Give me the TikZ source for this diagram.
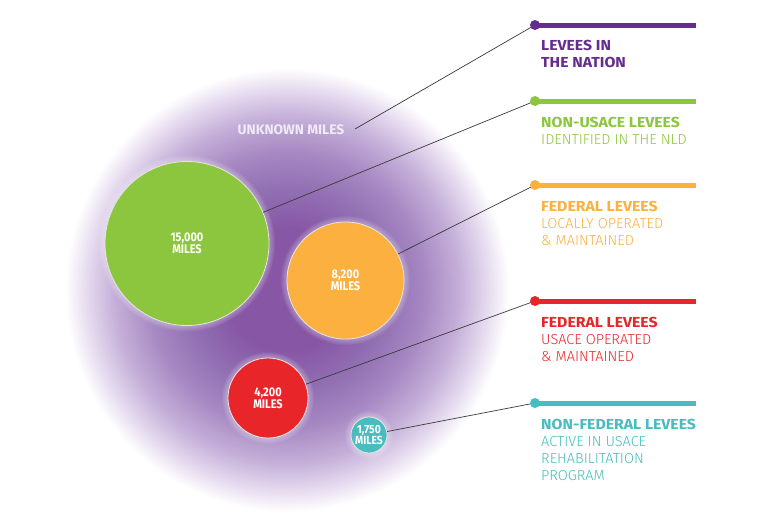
\documentclass[tikz,border=0pt]{standalone}
\usepackage{fontspec}
\setmainfont{Fira Sans}
\newfontfamily\lightfont{Fira Sans Light}
\newfontfamily\lvwide{Fira Sans}[FakeStretch=1.09]
\newfontfamily\lvcond{Fira Sans}[FakeStretch=0.88]
\definecolor{lvpurple}{HTML}{652D90}
\definecolor{lvgreen}{HTML}{8CC63F}
\definecolor{lvorange}{HTML}{FBB040}
\definecolor{lvred}{HTML}{E8262A}
\definecolor{lvteal}{HTML}{48BCBE}
\definecolor{glowA}{HTML}{8757A6}
\definecolor{glowB}{HTML}{9270B3}
\definecolor{glowC}{HTML}{A688C2}
\definecolor{glowD}{HTML}{C5B0D9}
\definecolor{glowE}{HTML}{E4D9EE}
\definecolor{conncol}{HTML}{3A3A3A}
\pgfdeclareradialshading{glowshade}{\pgfpoint{0bp}{0bp}}{color(0bp)=(glowA); color(7bp)=(glowA); color(11.5bp)=(glowB); color(15.5bp)=(glowC); color(19.5bp)=(glowD); color(22.5bp)=(glowE); color(25bp)=(white); color(50bp)=(white)}
\newcommand\lvhalo[2]{%
  \foreach \k in {1,...,6}{\fill[white,opacity=0.06] #1 circle ({#2+\k*1pt});}}
\tikzset{
  bub/.style={circle, draw=white!90!black, line width=0.8pt, inner sep=0pt, text=white,
    font=\lvcond\bfseries\fontsize{12.5}{12}\selectfont, align=center},
  dotn/.style={circle, inner sep=0pt, minimum size=10pt},
  bar/.style={line width=5pt},
  conn/.style={draw=conncol, line width=0.7pt},
  lbl/.style={anchor=north west, inner sep=0pt, align=left, font=\fontsize{14.5}{17}\selectfont},
}
\newcommand\lvhd[1]{{\lvwide\bfseries #1}}
\begin{document}
\begin{tikzpicture}[x=1pt,y=-1pt]
\useasboundingbox (0,0) rectangle (761,525);
\fill[white] (0,0) rectangle (761,525);
% big glow
\shade[shading=glowshade] (287,290) circle (222pt);
% halos
\lvhalo{(187,243.5)}{82pt}
\lvhalo{(345.5,280.5)}{58.5pt}
\lvhalo{(268,398)}{40pt}
\lvhalo{(369,435)}{18pt}
% unknown miles
\node[inner sep=0pt, text=white!90!lvpurple, font=\bfseries\fontsize{13.8}{15}\selectfont] (unknown) at (291,130) {UNKNOWN MILES};
\coordinate (unk) at (355,129);
% dots and bars
\node[dotn] (pdot) at (535,25) {};
\node[dotn] (gdot) at (535,101) {};
\node[dotn] (odot) at (535,185) {};
\node[dotn] (rdot) at (535,301) {};
\node[dotn] (tdot) at (535,403) {};
\coordinate (pend) at (696,25);
\coordinate (gend) at (696,101);
\coordinate (oend) at (696,185);
\coordinate (rend) at (696,301);
\coordinate (tend) at (696,403);
% circles
\node[bub, fill=lvgreen, minimum size=164pt] (green) at (187,243.5) {15,000\\MILES};
\node[bub, fill=lvorange, minimum size=117pt] (orange) at (345.5,280.5) {8,200\\MILES};
\node[bub, fill=lvred, minimum size=80pt] (red) at (268,398) {4,200\\MILES};
\node[bub, fill=lvteal, minimum size=36pt, font=\lvcond\bfseries\fontsize{11.8}{10.5}\selectfont] (teal) at (369,435) {1,750\\MILES};
% connectors
\draw[conn] (unk) -- (pdot.center);
\draw[conn] (green) -- (gdot.center);
\draw[conn] (orange) -- (odot.center);
\draw[conn] (red) -- (rdot.center);
\draw[conn] (teal) -- (tdot.center);
% bars
\draw[bar, lvpurple] (pdot.center) -- (pend);
\draw[bar, lvgreen] (gdot.center) -- (gend);
\draw[bar, lvorange] (odot.center) -- (oend);
\draw[bar, lvred] (rdot.center) -- (rend);
\draw[bar, lvteal] (tdot.center) -- (tend);
\fill[lvpurple] (pdot) circle (5pt);
\fill[lvgreen] (gdot) circle (5pt);
\fill[lvorange] (odot) circle (5pt);
\fill[lvred] (rdot) circle (5pt);
\fill[lvteal] (tdot) circle (5pt);
% labels
\node[lbl, text=lvpurple] (ptxt) at (541,40) {\lvhd{LEVEES IN}\\\lvhd{THE NATION}};
\node[lbl, text=lvgreen] (gtxt) at (541,117) {\lvhd{NON-USACE LEVEES}\\{\lightfont IDENTIFIED IN THE NLD}};
\node[lbl, text=lvorange] (otxt) at (541,201) {\lvhd{FEDERAL LEVEES}\\{\lightfont LOCALLY OPERATED}\\{\lightfont \& MAINTAINED}};
\node[lbl, text=lvred] (rtxt) at (541,317) {\lvhd{FEDERAL LEVEES}\\{\lightfont USACE OPERATED}\\{\lightfont \& MAINTAINED}};
\node[lbl, text=lvteal] (ttxt) at (541,419) {\lvhd{NON-FEDERAL LEVEES}\\{\lightfont ACTIVE IN USACE}\\{\lightfont REHABILITATION}\\{\lightfont PROGRAM}};
\end{tikzpicture}
\end{document}
